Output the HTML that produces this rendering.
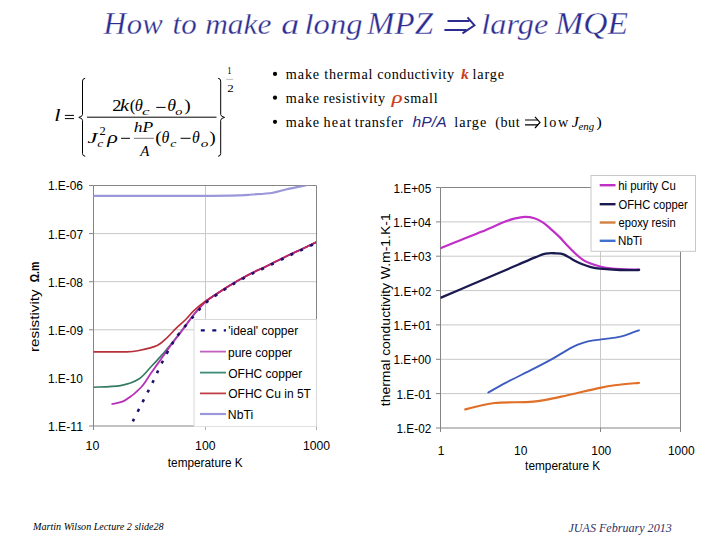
<!DOCTYPE html>
<html><head><meta charset="utf-8">
<style>
html,body{margin:0;padding:0;background:#fff;}
body{width:720px;height:540px;overflow:hidden;position:relative;}
svg{position:absolute;left:0;top:0;}
</style></head><body>
<svg width="720" height="540" viewBox="0 0 720 540">
<defs>
<clipPath id="clipL"><rect x="93.5" y="185.5" width="222.5" height="240.5"/></clipPath>
<clipPath id="clipR"><rect x="440.5" y="187.5" width="240" height="240.5"/></clipPath>
</defs>

<text x="103.44" y="33.60" font-family='"Liberation Serif",serif' font-size="31.00" font-style="italic" font-weight="normal" fill="#2c2c90" textLength="22.65" lengthAdjust="spacingAndGlyphs" stroke="#fff" stroke-width="0.3">H</text>
<text x="126.89" y="33.60" font-family='"Liberation Serif",serif' font-size="29.00" font-style="italic" font-weight="normal" fill="#2c2c90" textLength="35.84" lengthAdjust="spacingAndGlyphs" stroke="#fff" stroke-width="0.3">ow</text>
<text x="172.64" y="33.60" font-family='"Liberation Serif",serif' font-size="29.00" font-style="italic" font-weight="normal" fill="#2c2c90" textLength="24.08" lengthAdjust="spacingAndGlyphs" stroke="#fff" stroke-width="0.3">to</text>
<text x="205.16" y="33.60" font-family='"Liberation Serif",serif' font-size="29.00" font-style="italic" font-weight="normal" fill="#2c2c90" textLength="66.34" lengthAdjust="spacingAndGlyphs" stroke="#fff" stroke-width="0.3">make</text>
<text x="281.23" y="33.60" font-family='"Liberation Serif",serif' font-size="29.00" font-style="italic" font-weight="normal" fill="#2c2c90" textLength="18.03" lengthAdjust="spacingAndGlyphs" stroke="#fff" stroke-width="0.3">a</text>
<text x="304.57" y="33.60" font-family='"Liberation Serif",serif' font-size="29.00" font-style="italic" font-weight="normal" fill="#2c2c90" textLength="57.89" lengthAdjust="spacingAndGlyphs" stroke="#fff" stroke-width="0.3">long</text>
<text x="367.09" y="33.60" font-family='"Liberation Serif",serif' font-size="31.00" font-style="italic" font-weight="normal" fill="#2c2c90" textLength="65.94" lengthAdjust="spacingAndGlyphs" stroke="#fff" stroke-width="0.3">MPZ</text>
<text x="481.31" y="33.60" font-family='"Liberation Serif",serif' font-size="29.00" font-style="italic" font-weight="normal" fill="#2c2c90" textLength="67.11" lengthAdjust="spacingAndGlyphs" stroke="#fff" stroke-width="0.3">large</text>
<text x="555.39" y="33.60" font-family='"Liberation Serif",serif' font-size="31.00" font-style="italic" font-weight="normal" fill="#2c2c90" textLength="72.65" lengthAdjust="spacingAndGlyphs" stroke="#fff" stroke-width="0.3">MQE</text>
<g fill="none" stroke="#2c2c90" stroke-width="1.9" stroke-linecap="butt" stroke-linejoin="miter">
<path d="M447.5,21 L469.5,21 M444.4,30 L466.5,30"/>
<path d="M467.5,17.3 L474.5,25.4 L462.5,33.4"/>
</g>
<circle cx="275" cy="73.90" r="2.1" fill="#000"/>
<circle cx="275" cy="97.70" r="2.1" fill="#000"/>
<circle cx="275" cy="121.80" r="2.1" fill="#000"/>
<text x="285.80" y="78.80" font-family='"Liberation Serif",serif' font-size="14.20" font-style="normal" font-weight="normal" fill="#000" letter-spacing="0.880" >make</text>
<text x="324.16" y="78.80" font-family='"Liberation Serif",serif' font-size="14.20" font-style="normal" font-weight="normal" fill="#000" letter-spacing="0.826" >thermal</text>
<text x="377.21" y="78.80" font-family='"Liberation Serif",serif' font-size="14.20" font-style="normal" font-weight="normal" fill="#000" letter-spacing="0.533" >conductivity</text>
<text x="472.62" y="78.80" font-family='"Liberation Serif",serif' font-size="14.20" font-style="normal" font-weight="normal" fill="#000" letter-spacing="0.812" >large</text>
<text x="461.04" y="78.80" font-family='"Liberation Serif",serif' font-size="14.50" font-style="italic" font-weight="bold" fill="#c8401c" textLength="7.84" lengthAdjust="spacingAndGlyphs" >k</text>
<text x="285.80" y="102.60" font-family='"Liberation Serif",serif' font-size="14.20" font-style="normal" font-weight="normal" fill="#000" letter-spacing="0.880" >make</text>
<text x="323.42" y="102.60" font-family='"Liberation Serif",serif' font-size="14.20" font-style="normal" font-weight="normal" fill="#000" letter-spacing="0.563" >resistivity</text>
<text x="404.02" y="102.60" font-family='"Liberation Serif",serif' font-size="14.20" font-style="normal" font-weight="normal" fill="#000" letter-spacing="0.751" >small</text>
<text x="391.87" y="102.70" font-family='"Liberation Serif",serif' font-size="17.00" font-style="italic" font-weight="normal" fill="#c83a18" textLength="10.81" lengthAdjust="spacingAndGlyphs" stroke="#c83a18" stroke-width="0.2">ρ</text>
<text x="285.80" y="126.70" font-family='"Liberation Serif",serif' font-size="14.20" font-style="normal" font-weight="normal" fill="#000" letter-spacing="0.880" >make</text>
<text x="323.56" y="126.70" font-family='"Liberation Serif",serif' font-size="14.20" font-style="normal" font-weight="normal" fill="#000" letter-spacing="1.224" >heat</text>
<text x="354.86" y="126.70" font-family='"Liberation Serif",serif' font-size="14.20" font-style="normal" font-weight="normal" fill="#000" letter-spacing="0.672" >transfer</text>
<text x="454.32" y="126.70" font-family='"Liberation Serif",serif' font-size="14.20" font-style="normal" font-weight="normal" fill="#000" letter-spacing="0.949" >large</text>
<text x="495.18" y="126.70" font-family='"Liberation Serif",serif' font-size="14.20" font-style="normal" font-weight="normal" fill="#000" letter-spacing="0.544" >(but</text>
<text x="543.62" y="126.70" font-family='"Liberation Serif",serif' font-size="14.20" font-style="normal" font-weight="normal" fill="#000" letter-spacing="1.673" >low</text>
<text x="412.64" y="126.70" font-family='"Liberation Sans",sans-serif' font-size="15.50" font-style="italic" font-weight="normal" fill="#2a2a80" textLength="34.00" lengthAdjust="spacingAndGlyphs" >hP/A</text>
<text x="571.76" y="126.70" font-family='"Liberation Serif",serif' font-size="14.50" font-style="italic" font-weight="normal" fill="#000" textLength="7.02" lengthAdjust="spacingAndGlyphs" >J</text>
<text x="578.57" y="130.00" font-family='"Liberation Serif",serif' font-size="10.00" font-style="italic" font-weight="normal" fill="#000" textLength="15.65" lengthAdjust="spacingAndGlyphs" >eng</text>
<text x="596.36" y="126.70" font-family='"Liberation Serif",serif' font-size="14.50" font-style="normal" font-weight="normal" fill="#000" textLength="5.58" lengthAdjust="spacingAndGlyphs" >)</text>
<g fill="none" stroke="#000" stroke-width="1.2"><path d="M525,120 L538,120 M525,124.8 L538,124.8"/><path d="M535,116.8 L540,122.4 L535,128"/></g>
<text x="54.29" y="120.80" font-family='"Liberation Serif",serif' font-size="16.50" font-style="italic" font-weight="normal" fill="#000" textLength="6.31" lengthAdjust="spacingAndGlyphs" >l</text>
<path d="M64.9,115.4 H74 M64.9,118.6 H74" stroke="#000" stroke-width="1"/>
<path d="M85.2,78.3 Q82.5,78.6 82.5,81 L82.5,114.5 Q82.5,116.6 78.8,117.4 Q82.5,118.2 82.5,120.3 L82.5,153.5 Q82.5,156 85.2,156.3" fill="none" stroke="#000" stroke-width="1"/>
<path d="M218.1,78.3 Q220.7,78.6 220.7,81 L220.7,114.5 Q220.7,116.6 224.6,117.4 Q220.7,118.2 220.7,120.3 L220.7,153.5 Q220.7,156 218.1,156.3" fill="none" stroke="#000" stroke-width="1"/>
<path d="M87,117.2 H216.5" stroke="#000" stroke-width="1"/>
<text x="112.28" y="110.60" font-family='"Liberation Serif",serif' font-size="16.50" font-style="normal" font-weight="normal" fill="#000" textLength="9.35" lengthAdjust="spacingAndGlyphs" >2</text>
<text x="120.01" y="110.60" font-family='"Liberation Serif",serif' font-size="16.50" font-style="italic" font-weight="normal" fill="#000" textLength="9.09" lengthAdjust="spacingAndGlyphs" >k</text>
<text x="129.85" y="111.10" font-family='"Liberation Serif",serif' font-size="16.50" font-style="normal" font-weight="normal" fill="#000" textLength="5.70" lengthAdjust="spacingAndGlyphs" >(</text>
<text x="134.80" y="110.60" font-family='"Liberation Serif",serif' font-size="16.50" font-style="italic" font-weight="normal" fill="#000" textLength="8.09" lengthAdjust="spacingAndGlyphs" >θ</text>
<text x="141.97" y="114.50" font-family='"Liberation Serif",serif' font-size="10.50" font-style="italic" font-weight="normal" fill="#000" textLength="7.61" lengthAdjust="spacingAndGlyphs" >c</text>
<path d="M156.25,107.4 H165.6" stroke="#000" stroke-width="1"/>
<text x="167.23" y="110.60" font-family='"Liberation Serif",serif' font-size="16.50" font-style="italic" font-weight="normal" fill="#000" textLength="8.79" lengthAdjust="spacingAndGlyphs" >θ</text>
<text x="175.17" y="114.50" font-family='"Liberation Serif",serif' font-size="10.50" font-style="italic" font-weight="normal" fill="#000" textLength="7.15" lengthAdjust="spacingAndGlyphs" >o</text>
<text x="184.37" y="111.10" font-family='"Liberation Serif",serif' font-size="16.50" font-style="normal" font-weight="normal" fill="#000" textLength="6.48" lengthAdjust="spacingAndGlyphs" >)</text>
<text x="87.46" y="143.00" font-family='"Liberation Serif",serif' font-size="15.00" font-style="italic" font-weight="normal" fill="#000" textLength="9.96" lengthAdjust="spacingAndGlyphs" >J</text>
<text x="99.45" y="135.00" font-family='"Liberation Serif",serif' font-size="11.50" font-style="normal" font-weight="normal" fill="#000" textLength="6.24" lengthAdjust="spacingAndGlyphs" >2</text>
<text x="97.38" y="146.80" font-family='"Liberation Serif",serif' font-size="10.50" font-style="italic" font-weight="normal" fill="#000" textLength="6.07" lengthAdjust="spacingAndGlyphs" >c</text>
<text x="107.26" y="142.60" font-family='"Liberation Serif",serif' font-size="16.50" font-style="italic" font-weight="normal" fill="#000" textLength="10.61" lengthAdjust="spacingAndGlyphs" >ρ</text>
<path d="M121.1,138.3 H130" stroke="#000" stroke-width="1"/>
<text x="133.77" y="131.70" font-family='"Liberation Serif",serif' font-size="14.50" font-style="italic" font-weight="normal" fill="#000" textLength="19.48" lengthAdjust="spacingAndGlyphs" >hP</text>
<path d="M133.9,138.3 H153.9" stroke="#666" stroke-width="0.9"/>
<text x="140.22" y="155.60" font-family='"Liberation Serif",serif' font-size="15.00" font-style="italic" font-weight="normal" fill="#000" textLength="9.13" lengthAdjust="spacingAndGlyphs" >A</text>
<text x="155.24" y="143.00" font-family='"Liberation Serif",serif' font-size="16.50" font-style="normal" font-weight="normal" fill="#000" textLength="6.48" lengthAdjust="spacingAndGlyphs" >(</text>
<text x="161.42" y="142.60" font-family='"Liberation Serif",serif' font-size="16.50" font-style="italic" font-weight="normal" fill="#000" textLength="7.86" lengthAdjust="spacingAndGlyphs" >θ</text>
<text x="170.18" y="146.80" font-family='"Liberation Serif",serif' font-size="10.50" font-style="italic" font-weight="normal" fill="#000" textLength="6.07" lengthAdjust="spacingAndGlyphs" >c</text>
<path d="M180.6,138.3 H190.6" stroke="#000" stroke-width="1"/>
<text x="192.03" y="142.60" font-family='"Liberation Serif",serif' font-size="16.50" font-style="italic" font-weight="normal" fill="#000" textLength="7.74" lengthAdjust="spacingAndGlyphs" >θ</text>
<text x="200.65" y="146.80" font-family='"Liberation Serif",serif' font-size="10.50" font-style="italic" font-weight="normal" fill="#000" textLength="7.61" lengthAdjust="spacingAndGlyphs" >o</text>
<text x="209.37" y="143.00" font-family='"Liberation Serif",serif' font-size="16.50" font-style="normal" font-weight="normal" fill="#000" textLength="6.48" lengthAdjust="spacingAndGlyphs" >)</text>
<text x="227.35" y="74.40" font-family='"Liberation Serif",serif' font-size="11.00" font-style="normal" font-weight="normal" fill="#000" textLength="4.26" lengthAdjust="spacingAndGlyphs" >1</text>
<path d="M226.3,79.4 H233" stroke="#aaa" stroke-width="0.8"/>
<text x="227.23" y="91.90" font-family='"Liberation Serif",serif' font-size="11.00" font-style="normal" font-weight="normal" fill="#000" textLength="6.49" lengthAdjust="spacingAndGlyphs" >2</text>
<path d="M93.5,233.6 H316.0" stroke="#c8c8c8" stroke-width="1"/>
<path d="M93.5,281.7 H316.0" stroke="#c8c8c8" stroke-width="1"/>
<path d="M93.5,329.8 H316.0" stroke="#c8c8c8" stroke-width="1"/>
<path d="M205.5,185.5 V426" stroke="#c8c8c8" stroke-width="1"/>
<path d="M93.5,185.5 H316.5 V426 H93.5 Z" fill="none" stroke="#858585" stroke-width="1"/>
<path d="M89,185.5 H93.5" stroke="#858585" stroke-width="1"/>
<path d="M89,233.6 H93.5" stroke="#858585" stroke-width="1"/>
<path d="M89,281.7 H93.5" stroke="#858585" stroke-width="1"/>
<path d="M89,329.8 H93.5" stroke="#858585" stroke-width="1"/>
<path d="M89,426.0 H93.5" stroke="#858585" stroke-width="1"/>
<path d="M93.5,426 V430" stroke="#858585" stroke-width="1"/>
<path d="M205.5,426 V430" stroke="#b0b0b0" stroke-width="1"/>
<path d="M316.5,426 V430" stroke="#b0b0b0" stroke-width="1"/>
<g clip-path="url(#clipL)" fill="none" stroke-linejoin="round" stroke-linecap="round">
<path d="M93.00,195.80 C110.83,195.80 175.50,195.88 200.00,195.80 C224.50,195.72 231.33,195.52 240.00,195.30 C248.67,195.08 246.72,194.88 252.00,194.50 C257.28,194.12 265.92,193.88 271.70,193.00 C277.48,192.12 281.43,190.40 286.70,189.20 C291.97,188.00 298.42,186.83 303.30,185.80 C308.18,184.77 313.88,183.47 316.00,183.00" stroke="#9a98d8" stroke-width="2.2"/>
<path d="M93.00,387.20 C97.58,386.93 112.85,386.97 120.50,385.60 C128.15,384.23 133.82,382.13 138.90,379.00 C143.98,375.87 147.27,370.70 151.00,366.80 C154.73,362.90 157.88,359.50 161.30,355.60 C164.72,351.70 167.77,348.00 171.50,343.40 C175.23,338.80 179.97,332.83 183.70,328.00 C187.43,323.17 190.28,318.73 193.90,314.40 C197.52,310.07 201.05,305.78 205.40,302.00 C209.75,298.22 215.40,294.78 220.00,291.70 C224.60,288.62 228.00,286.45 233.00,283.50 C238.00,280.55 244.17,277.00 250.00,274.00 C255.83,271.00 261.50,268.67 268.00,265.50 C274.50,262.33 283.50,257.67 289.00,255.00 C294.50,252.33 296.50,251.62 301.00,249.50 C305.50,247.38 313.50,243.50 316.00,242.30" stroke="#337a60" stroke-width="1.6"/>
<path d="M112.20,404.00 C114.33,403.40 120.22,403.15 125.00,400.40 C129.78,397.65 136.55,392.07 140.90,387.50 C145.25,382.93 147.70,377.80 151.10,373.00 C154.50,368.20 157.90,363.47 161.30,358.70 C164.70,353.93 168.12,348.98 171.50,344.40 C174.88,339.82 177.87,336.17 181.60,331.20 C185.33,326.23 189.93,319.47 193.90,314.60 C197.87,309.73 201.05,305.82 205.40,302.00 C209.75,298.18 215.40,294.78 220.00,291.70 C224.60,288.62 228.00,286.45 233.00,283.50 C238.00,280.55 244.17,277.00 250.00,274.00 C255.83,271.00 261.50,268.67 268.00,265.50 C274.50,262.33 283.50,257.67 289.00,255.00 C294.50,252.33 296.50,251.62 301.00,249.50 C305.50,247.38 313.50,243.50 316.00,242.30" stroke="#b830b8" stroke-width="1.8"/>
<path d="M93.00,351.80 C98.62,351.80 119.05,352.02 126.70,351.80 C134.35,351.58 133.82,351.55 138.90,350.50 C143.98,349.45 152.45,347.70 157.20,345.50 C161.95,343.30 164.35,340.07 167.40,337.30 C170.45,334.53 172.45,331.87 175.50,328.90 C178.55,325.93 182.63,322.53 185.70,319.50 C188.77,316.47 190.62,313.73 193.90,310.70 C197.18,307.67 201.05,304.47 205.40,301.30 C209.75,298.13 215.40,294.67 220.00,291.70 C224.60,288.73 228.00,286.45 233.00,283.50 C238.00,280.55 244.17,277.00 250.00,274.00 C255.83,271.00 261.50,268.67 268.00,265.50 C274.50,262.33 283.50,257.67 289.00,255.00 C294.50,252.33 296.50,251.62 301.00,249.50 C305.50,247.38 313.50,243.50 316.00,242.30" stroke="#b8303a" stroke-width="1.7"/>
<path d="M205.40,301.50 C207.83,299.87 215.40,294.70 220.00,291.70 C224.60,288.70 228.00,286.45 233.00,283.50 C238.00,280.55 244.17,277.00 250.00,274.00 C255.83,271.00 261.50,268.67 268.00,265.50 C274.50,262.33 283.50,257.67 289.00,255.00 C294.50,252.33 296.50,251.62 301.00,249.50 C305.50,247.38 313.50,243.50 316.00,242.30" stroke="#c02080" stroke-width="1.2"/>
<path d="M132.50,420.80 C134.17,417.50 139.23,407.42 142.50,401.00 C145.77,394.58 149.00,388.60 152.10,382.30 C155.20,376.00 157.88,369.58 161.10,363.20 C164.32,356.82 168.32,349.20 171.40,344.00 C174.48,338.80 175.85,336.83 179.60,332.00 C183.35,327.17 189.60,319.95 193.90,315.00 C198.20,310.05 201.05,306.18 205.40,302.30 C209.75,298.42 215.40,294.83 220.00,291.70 C224.60,288.57 228.00,286.45 233.00,283.50 C238.00,280.55 244.17,277.00 250.00,274.00 C255.83,271.00 261.50,268.67 268.00,265.50 C274.50,262.33 283.50,257.67 289.00,255.00 C294.50,252.33 296.50,251.62 301.00,249.50 C305.50,247.38 313.50,243.50 316.00,242.30" stroke="#20106a" stroke-width="2.6" stroke-dasharray="3,7.8" stroke-linecap="butt" transform="translate(0.3,0.6)"/>
</g>
<text x="47.89" y="190.40" font-family='"Liberation Sans",sans-serif' font-size="12.80" font-style="normal" font-weight="normal" fill="#000" textLength="35.13" lengthAdjust="spacingAndGlyphs" >1.E-06</text>
<text x="47.89" y="238.50" font-family='"Liberation Sans",sans-serif' font-size="12.80" font-style="normal" font-weight="normal" fill="#000" textLength="35.21" lengthAdjust="spacingAndGlyphs" >1.E-07</text>
<text x="47.89" y="286.60" font-family='"Liberation Sans",sans-serif' font-size="12.80" font-style="normal" font-weight="normal" fill="#000" textLength="35.13" lengthAdjust="spacingAndGlyphs" >1.E-08</text>
<text x="47.89" y="334.70" font-family='"Liberation Sans",sans-serif' font-size="12.80" font-style="normal" font-weight="normal" fill="#000" textLength="35.17" lengthAdjust="spacingAndGlyphs" >1.E-09</text>
<text x="47.89" y="382.80" font-family='"Liberation Sans",sans-serif' font-size="12.80" font-style="normal" font-weight="normal" fill="#000" textLength="35.07" lengthAdjust="spacingAndGlyphs" >1.E-10</text>
<text x="47.89" y="430.90" font-family='"Liberation Sans",sans-serif' font-size="12.80" font-style="normal" font-weight="normal" fill="#000" textLength="35.19" lengthAdjust="spacingAndGlyphs" >1.E-11</text>
<text x="85.61" y="450.00" font-family='"Liberation Sans",sans-serif' font-size="12.00" font-style="normal" font-weight="normal" fill="#000" textLength="13.81" lengthAdjust="spacingAndGlyphs" >10</text>
<text x="195.09" y="450.00" font-family='"Liberation Sans",sans-serif' font-size="12.00" font-style="normal" font-weight="normal" fill="#000" textLength="20.47" lengthAdjust="spacingAndGlyphs" >100</text>
<text x="302.96" y="450.00" font-family='"Liberation Sans",sans-serif' font-size="12.00" font-style="normal" font-weight="normal" fill="#000" textLength="27.13" lengthAdjust="spacingAndGlyphs" >1000</text>
<text x="167.82" y="466.80" font-family='"Liberation Sans",sans-serif' font-size="12.00" font-style="normal" font-weight="normal" fill="#000" textLength="74.81" lengthAdjust="spacingAndGlyphs" >temperature K</text>
<g transform="translate(38.9,0) rotate(-90)">
<text x="-1.01" y="0" font-family='"Liberation Sans",sans-serif' font-size="12.2" textLength="62.74" lengthAdjust="spacingAndGlyphs" transform="translate(-351,0)">resistivity</text>
<text x="-0.42" y="0" font-family='"Liberation Sans",sans-serif' font-size="12.2" font-weight="bold" textLength="20.57" lengthAdjust="spacingAndGlyphs" transform="translate(-281.9,0)">&#937;.m</text>
</g>
<rect x="194" y="319.5" width="122.5" height="107" fill="#fff"/>
<path d="M194,426.5 V319.5 H316.5 V426.5" fill="none" stroke="#d8d8d8" stroke-width="1"/>
<path d="M200.8,330.4 H226" stroke="#10107a" stroke-width="2.4" stroke-dasharray="4,7.5"/>
<text x="228.19" y="335.30" font-family='"Liberation Sans",sans-serif' font-size="12.00" font-style="normal" font-weight="normal" fill="#000" textLength="69.96" lengthAdjust="spacingAndGlyphs" >'ideal' copper</text>
<path d="M200,351.6 H226" stroke="#c060c0" stroke-width="1.8"/>
<text x="228.03" y="356.50" font-family='"Liberation Sans",sans-serif' font-size="12.00" font-style="normal" font-weight="normal" fill="#000" textLength="64.04" lengthAdjust="spacingAndGlyphs" >pure copper</text>
<path d="M200,372.6 H226" stroke="#3c8c78" stroke-width="1.8"/>
<text x="228.23" y="377.50" font-family='"Liberation Sans",sans-serif' font-size="12.00" font-style="normal" font-weight="normal" fill="#000" textLength="74.02" lengthAdjust="spacingAndGlyphs" >OFHC copper</text>
<path d="M200,393.4 H226" stroke="#c04048" stroke-width="1.8"/>
<text x="228.23" y="398.30" font-family='"Liberation Sans",sans-serif' font-size="12.00" font-style="normal" font-weight="normal" fill="#000" textLength="82.68" lengthAdjust="spacingAndGlyphs" >OFHC Cu in 5T</text>
<path d="M200,414.0 H226" stroke="#9a98d8" stroke-width="2.2"/>
<text x="227.82" y="418.90" font-family='"Liberation Sans",sans-serif' font-size="12.00" font-style="normal" font-weight="normal" fill="#000" textLength="25.34" lengthAdjust="spacingAndGlyphs" >NbTi</text>
<path d="M440.5,221.9 H680.5" stroke="#c8c8c8" stroke-width="1"/>
<path d="M440.5,256.2 H680.5" stroke="#c8c8c8" stroke-width="1"/>
<path d="M440.5,290.6 H680.5" stroke="#c8c8c8" stroke-width="1"/>
<path d="M440.5,324.9 H680.5" stroke="#c8c8c8" stroke-width="1"/>
<path d="M440.5,359.3 H680.5" stroke="#c8c8c8" stroke-width="1"/>
<path d="M440.5,393.6 H680.5" stroke="#c8c8c8" stroke-width="1"/>
<path d="M600.5,187.5 V428" stroke="#c8c8c8" stroke-width="1"/>
<path d="M440.5,187.5 H680.5 V428 H440.5 Z" fill="none" stroke="#858585" stroke-width="1"/>
<path d="M436,187.5 H440.5" stroke="#858585" stroke-width="1"/>
<path d="M436,221.9 H440.5" stroke="#858585" stroke-width="1"/>
<path d="M436,256.2 H440.5" stroke="#858585" stroke-width="1"/>
<path d="M436,290.6 H440.5" stroke="#858585" stroke-width="1"/>
<path d="M436,324.9 H440.5" stroke="#858585" stroke-width="1"/>
<path d="M436,359.3 H440.5" stroke="#858585" stroke-width="1"/>
<path d="M436,393.6 H440.5" stroke="#858585" stroke-width="1"/>
<path d="M436,428.0 H440.5" stroke="#858585" stroke-width="1"/>
<path d="M440.5,428 V432" stroke="#858585" stroke-width="1"/>
<path d="M600.5,428 V432" stroke="#858585" stroke-width="1"/>
<path d="M680.5,428 V432" stroke="#858585" stroke-width="1"/>
<g clip-path="url(#clipR)" fill="none" stroke-linejoin="round" stroke-linecap="round">
<path d="M441.00,248.00 C444.33,246.67 454.17,242.73 461.00,240.00 C467.83,237.27 474.83,234.60 482.00,231.60 C489.17,228.60 498.50,224.18 504.00,222.00 C509.50,219.82 511.55,219.37 515.00,218.50 C518.45,217.63 521.47,216.85 524.70,216.80 C527.93,216.75 531.38,217.27 534.40,218.20 C537.42,219.13 540.02,220.55 542.80,222.40 C545.58,224.25 548.33,226.88 551.10,229.30 C553.87,231.72 556.62,234.12 559.40,236.90 C562.18,239.68 565.02,243.10 567.80,246.00 C570.58,248.90 573.57,251.98 576.10,254.30 C578.63,256.62 580.68,258.40 583.00,259.90 C585.32,261.40 587.17,262.20 590.00,263.30 C592.83,264.40 596.67,265.67 600.00,266.50 C603.33,267.33 606.67,267.85 610.00,268.30 C613.33,268.75 615.13,268.97 620.00,269.20 C624.87,269.43 636.00,269.62 639.20,269.70" stroke="#c030c8" stroke-width="2.2"/>
<path d="M441.00,297.60 C445.83,295.55 460.17,289.48 470.00,285.30 C479.83,281.12 492.00,275.93 500.00,272.50 C508.00,269.07 512.03,267.27 518.00,264.70 C523.97,262.13 531.20,258.95 535.80,257.10 C540.40,255.25 542.35,254.23 545.60,253.60 C548.85,252.97 552.30,253.18 555.30,253.30 C558.30,253.42 560.60,253.20 563.60,254.30 C566.60,255.40 570.28,258.28 573.30,259.90 C576.32,261.52 578.92,262.85 581.70,264.00 C584.48,265.15 586.95,266.02 590.00,266.80 C593.05,267.58 595.00,268.17 600.00,268.70 C605.00,269.23 613.50,269.78 620.00,270.00 C626.50,270.22 635.83,270.00 639.00,270.00" stroke="#1a1a50" stroke-width="2.3"/>
<path d="M465.30,409.40 C470.15,408.33 483.07,404.28 494.40,403.00 C505.73,401.72 522.18,402.75 533.30,401.70 C544.42,400.65 549.98,399.02 561.10,396.70 C572.22,394.38 590.73,389.75 600.00,387.80 C609.27,385.85 610.22,385.83 616.70,385.00 C623.18,384.17 635.20,383.17 638.90,382.80" stroke="#e07028" stroke-width="2.2"/>
<path d="M488.30,392.50 C491.18,390.88 498.10,386.73 505.60,382.80 C513.10,378.87 525.43,372.93 533.30,368.90 C541.17,364.87 547.23,361.70 552.80,358.60 C558.37,355.50 562.53,352.62 566.70,350.30 C570.87,347.98 574.10,346.23 577.80,344.70 C581.50,343.17 584.27,342.07 588.90,341.10 C593.53,340.13 600.52,339.60 605.60,338.90 C610.68,338.20 615.70,337.65 619.40,336.90 C623.10,336.15 624.55,335.50 627.80,334.40 C631.05,333.30 637.05,330.98 638.90,330.30" stroke="#3c5cc0" stroke-width="1.9"/>
</g>
<text x="393.47" y="192.50" font-family='"Liberation Sans",sans-serif' font-size="12.80" font-style="normal" font-weight="normal" fill="#000" textLength="37.73" lengthAdjust="spacingAndGlyphs" >1.E+05</text>
<text x="393.32" y="226.86" font-family='"Liberation Sans",sans-serif' font-size="12.80" font-style="normal" font-weight="normal" fill="#000" textLength="37.73" lengthAdjust="spacingAndGlyphs" >1.E+04</text>
<text x="393.49" y="261.21" font-family='"Liberation Sans",sans-serif' font-size="12.80" font-style="normal" font-weight="normal" fill="#000" textLength="37.73" lengthAdjust="spacingAndGlyphs" >1.E+03</text>
<text x="393.57" y="295.57" font-family='"Liberation Sans",sans-serif' font-size="12.80" font-style="normal" font-weight="normal" fill="#000" textLength="37.73" lengthAdjust="spacingAndGlyphs" >1.E+02</text>
<text x="393.55" y="329.93" font-family='"Liberation Sans",sans-serif' font-size="12.80" font-style="normal" font-weight="normal" fill="#000" textLength="37.73" lengthAdjust="spacingAndGlyphs" >1.E+01</text>
<text x="393.43" y="364.29" font-family='"Liberation Sans",sans-serif' font-size="12.80" font-style="normal" font-weight="normal" fill="#000" textLength="37.73" lengthAdjust="spacingAndGlyphs" >1.E+00</text>
<text x="396.51" y="398.64" font-family='"Liberation Sans",sans-serif' font-size="12.80" font-style="normal" font-weight="normal" fill="#000" textLength="34.77" lengthAdjust="spacingAndGlyphs" >1.E-01</text>
<text x="396.53" y="433.00" font-family='"Liberation Sans",sans-serif' font-size="12.80" font-style="normal" font-weight="normal" fill="#000" textLength="34.77" lengthAdjust="spacingAndGlyphs" >1.E-02</text>
<text x="437.70" y="455.20" font-family='"Liberation Sans",sans-serif' font-size="12.30" font-style="normal" font-weight="normal" fill="#000" textLength="6.67" lengthAdjust="spacingAndGlyphs" >1</text>
<text x="514.10" y="455.20" font-family='"Liberation Sans",sans-serif' font-size="12.30" font-style="normal" font-weight="normal" fill="#000" textLength="13.35" lengthAdjust="spacingAndGlyphs" >10</text>
<text x="591.27" y="455.20" font-family='"Liberation Sans",sans-serif' font-size="12.30" font-style="normal" font-weight="normal" fill="#000" textLength="20.02" lengthAdjust="spacingAndGlyphs" >100</text>
<text x="667.93" y="455.20" font-family='"Liberation Sans",sans-serif' font-size="12.30" font-style="normal" font-weight="normal" fill="#000" textLength="26.70" lengthAdjust="spacingAndGlyphs" >1000</text>
<text x="525.12" y="469.80" font-family='"Liberation Sans",sans-serif' font-size="12.00" font-style="normal" font-weight="normal" fill="#000" textLength="75.11" lengthAdjust="spacingAndGlyphs" >temperature K</text>
<g transform="translate(390.2,406) rotate(-90)"><text x="-0.21" y="0" font-family='"Liberation Sans",sans-serif' font-size="12" textLength="192.89" lengthAdjust="spacingAndGlyphs">thermal conductivity W.m-1.K-1</text></g>
<rect x="591" y="175.5" width="104.5" height="75.8" fill="#fff" stroke="#c8c8c8" stroke-width="1"/>
<path d="M599.7,185.2 H615.5" stroke="#c030c8" stroke-width="2.4"/>
<text x="618.21" y="189.70" font-family='"Liberation Sans",sans-serif' font-size="12.00" font-style="normal" font-weight="normal" fill="#000" textLength="57.54" lengthAdjust="spacingAndGlyphs" >hi purity Cu</text>
<path d="M599.7,204.2 H615.5" stroke="#1a1a50" stroke-width="2.4"/>
<text x="618.47" y="208.70" font-family='"Liberation Sans",sans-serif' font-size="12.00" font-style="normal" font-weight="normal" fill="#000" textLength="69.22" lengthAdjust="spacingAndGlyphs" >OFHC copper</text>
<path d="M599.7,222.5 H615.5" stroke="#d08040" stroke-width="2.4"/>
<text x="618.52" y="227.00" font-family='"Liberation Sans",sans-serif' font-size="12.00" font-style="normal" font-weight="normal" fill="#000" textLength="57.20" lengthAdjust="spacingAndGlyphs" >epoxy resin</text>
<path d="M599.7,240.8 H615.5" stroke="#4070d0" stroke-width="2.4"/>
<text x="618.07" y="245.30" font-family='"Liberation Sans",sans-serif' font-size="12.00" font-style="normal" font-weight="normal" fill="#000" textLength="24.00" lengthAdjust="spacingAndGlyphs" >NbTi</text>
<text x="33.02" y="530.40" font-family='"Liberation Serif",serif' font-size="11.00" font-style="italic" font-weight="normal" fill="#000" textLength="130.60" lengthAdjust="spacingAndGlyphs" >Martin Wilson Lecture 2 slide28</text>
<text x="568.42" y="532.20" font-family='"Liberation Serif",serif' font-size="12.00" font-style="italic" font-weight="normal" fill="#333366" textLength="103.40" lengthAdjust="spacingAndGlyphs" >JUAS February 2013</text>
</svg></body></html>
